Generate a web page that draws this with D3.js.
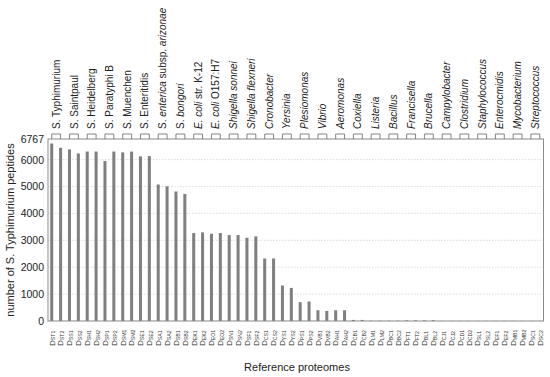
<!DOCTYPE html>
<html><head><meta charset="utf-8">
<script src="https://cdn.jsdelivr.net/npm/d3@7/dist/d3.min.js"></script>
<style>body{margin:0;background:#fff}svg{display:block}text{font-family:"Liberation Sans",Arial,sans-serif}</style>
</head><body><svg id="c" width="550" height="377"></svg>
<script>
const codes = ["ST1","ST2","SS1","SS2","SH1","SH2","SP1","SP2","SM1","SM2","SE1","SE2","SA1","SA2","SB1","SB2","EK1","EK2","EO1","EO2","SN1","SN2","SF1","SF2","CS1","CS2","YS1","YS2","PS1","PS2","VB1","VB2","AH1","AH2","CB1","CB2","LM1","LM2","BC1","BC2","FT1","FT2","BL1","BL2","CJ1","CJ2","CD1","CD2","SL1","SL2","EF1","EF2","MB1","MB2","SC1","SC2"];
const values = [6600,6440,6380,6230,6300,6300,5950,6300,6270,6300,6120,6130,5075,5010,4815,4725,3270,3295,3245,3270,3195,3195,3095,3145,2325,2325,1320,1230,700,725,400,375,400,400,40,40,12,12,12,12,25,25,25,30,6,6,6,6,6,6,6,6,6,6,6,6];
// species labels: array of [text, italic] segments
const species = [
 [["S. Typhimurium",0]],[["S. Saintpaul",0]],[["S. Heidelberg",0]],[["S. Paratyphi B",0]],
 [["S. Muenchen",0]],[["S. Enteritidis",0]],[["S. ",0],["enterica",1],[" subsp. ",0],["arizonae",1]],
 [["S. ",0],["bongori",1]],[["E. coli",1],[" str. K-12",0]],[["E. coli",1],[" O157:H7",0]],
 [["Shigella sonnei",1]],[["Shigella flexneri",1]],[["Cronobacter",1]],[["Yersinia",1]],
 [["Plesiomonas",1]],[["Vibrio",1]],[["Aeromonas",1]],[["Coxiella",1]],[["Listeria",1]],
 [["Bacillus",1]],[["Francisella",1]],[["Brucella",1]],[["Campylobacter",1]],[["Clostridium",1]],
 [["Staphylococcus",1]],[["Enterocmidis",1]],[["Mycobacterium",1]],[["Streptococcus",1]]
];
const yTicks = [0,1000,2000,3000,4000,5000,6000,6767];
const yMax = 6767;

const svg = d3.select("#c");
const L=48, R=543.5, T=139, B=321;
const x = d3.scaleBand().domain(codes).range([L,R]).paddingInner(0.66).paddingOuter(0.25);
const y = d3.scaleLinear().domain([0,yMax]).range([B,T]);
const gray="#7f7f7f";

// grid
svg.append("g").selectAll("line").data(yTicks.filter(d=>d>0&&d<yMax)).join("line")
 .attr("x1",L).attr("x2",R).attr("y1",d=>y(d)).attr("y2",d=>y(d))
 .attr("stroke","#d4d4d4").attr("stroke-width",0.8).attr("stroke-dasharray","1.5,1.5");

// bars
svg.append("g").selectAll("rect").data(codes).join("rect")
 .attr("x",d=>x(d)).attr("width",x.bandwidth())
 .attr("y",(d,i)=>y(values[i])).attr("height",(d,i)=>B-y(values[i]))
 .attr("fill",gray);

// frame
svg.append("rect").attr("x",L).attr("y",T).attr("width",R-L).attr("height",B-T)
 .attr("fill","none").attr("stroke","#8a8a8a").attr("stroke-width",1);

// y axis
const ya = svg.append("g").attr("transform",`translate(${L},0)`)
 .call(d3.axisLeft(y).tickValues(yTicks).tickSize(0).tickPadding(4).tickFormat(d3.format("d")));
ya.select(".domain").remove();
ya.selectAll("text").attr("font-size",10.5).attr("fill","#222").attr("font-family","Liberation Sans, Arial, sans-serif");

// x tick labels
const xl = svg.append("g").selectAll("text").data(codes).join("text")
 .attr("transform",d=>`translate(${x(d)+x.bandwidth()/2+2.8},346) rotate(-90)`)
 .attr("fill","#333");
xl.append("tspan").attr("font-size",8).text("D");
xl.append("tspan").attr("font-size",5.2).attr("dy",0.8).text(d=>d);

// brackets + species labels
const cx = i=> (x(codes[2*i])+x(codes[2*i+1]))/2 + x.bandwidth()/2;
const hw = i=> (x(codes[2*i+1])-x(codes[2*i]))/2;
svg.append("g").selectAll("path").data(species).join("path")
 .attr("d",(d,i)=>`M${cx(i)-hw(i)},${T}V${T-5}H${cx(i)+hw(i)}V${T}`)
 .attr("fill","none").attr("stroke","#777").attr("stroke-width",0.9);
const st = svg.append("g").selectAll("text").data(species).join("text")
 .attr("transform",(d,i)=>`translate(${cx(i)+3.6},129) rotate(-90)`)
 .attr("font-size",10).attr("fill","#222");
st.selectAll("tspan").data(d=>d).join("tspan")
 .attr("font-style",d=>d[1]?"italic":"normal").text(d=>d[0]);

// axis titles
svg.append("text").attr("transform",`translate(14,${(T+B)/2}) rotate(-90)`)
 .attr("text-anchor","middle").attr("font-size",11).attr("fill","#222")
 .text("number of S. Typhimurium peptides");
svg.append("text").attr("x",297).attr("y",371).attr("text-anchor","middle")
 .attr("font-size",11).attr("fill","#222").text("Reference proteomes");
</script></body></html>
